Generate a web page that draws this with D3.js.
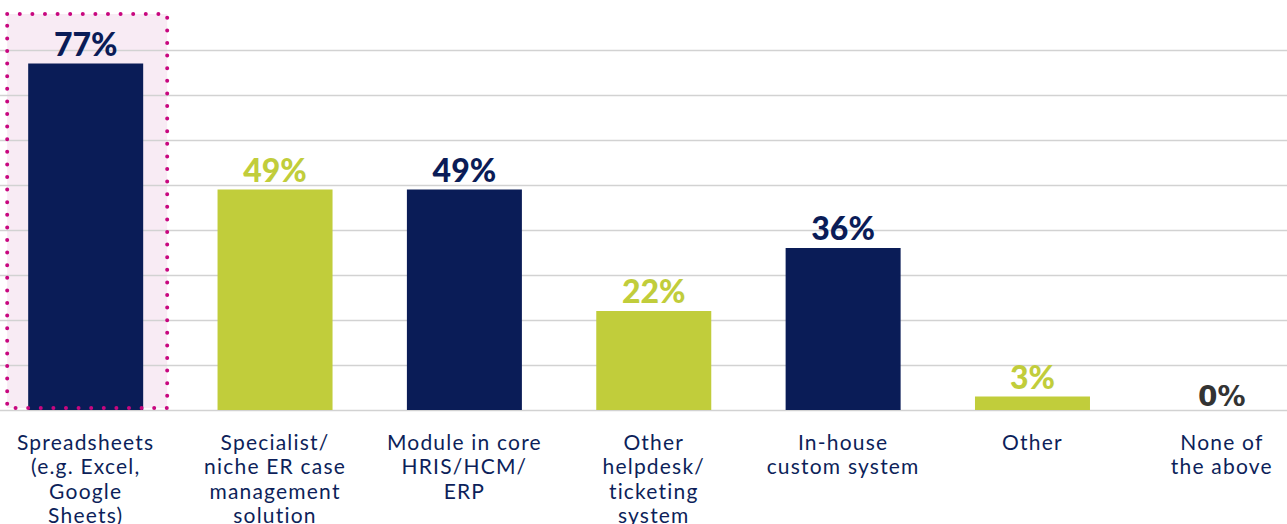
<!DOCTYPE html>
<html>
<head>
<meta charset="utf-8">
<script src="https://cdn.jsdelivr.net/npm/d3@7"></script>
<style>
  html, body { margin: 0; padding: 0; background: #ffffff; }
  svg { display: block; }
</style>
</head>
<body>
<svg id="chart" width="1287" height="524"></svg>
<script>
// Categories (each label split into its display lines)
const categories = [
  ["Spreadsheets", "(e.g. Excel,", "Google", "Sheets)"],
  ["Specialist/", "niche ER case", "management", "solution"],
  ["Module in core", "HRIS/HCM/", "ERP"],
  ["Other", "helpdesk/", "ticketing", "system"],
  ["In-house", "custom system"],
  ["Other"],
  ["None of", "the above"]
];
// Share of respondents (%)
const values = [77, 49, 49, 22, 36, 3, 0];
// Bar colour group per category
const groups = ["navy", "lime", "navy", "lime", "navy", "lime", "navy"];
// Gridline values (%)
const gridTicks = [0, 10, 20, 30, 40, 50, 60, 70, 80];
// Highlighted category index
const highlighted = [0];

const W = 1287, H = 524;
const colors = { navy: "#0a1c57", lime: "#c1cd3b" };
const textNavy = "#0d1f5a";

const svg = d3.select("#chart");
const ids = categories.map((c, i) => i);

const step = 189.36;
const x = d3.scaleBand()
  .domain(ids)
  .range([-9, -9 + step * ids.length])
  .paddingInner(1 - 115 / step)
  .paddingOuter((1 - 115 / step) / 2);

const y = d3.scaleLinear().domain([0, 80]).range([410, 50]);

// Highlight panel background
const hl = svg.append("g");
hl.selectAll("rect")
  .data(highlighted)
  .join("rect")
  .attr("x", d => x(d) - 21)
  .attr("y", 14)
  .attr("width", x.bandwidth() + 45)
  .attr("height", y(0) - 2 - 14)
  .attr("fill", "#f8ebf4");

// Gridlines
svg.append("g")
  .call(d3.axisLeft(y).tickValues(gridTicks).tickSize(-W).tickFormat(""))
  .call(g => g.select(".domain").remove())
  .call(g => g.selectAll(".tick line")
    .attr("x1", 0).attr("x2", W)
    .attr("stroke", "#d2d2d2").attr("stroke-width", 1.3));

// Bars
svg.append("g").selectAll("rect")
  .data(values)
  .join("rect")
  .attr("x", (d, i) => x(i))
  .attr("y", d => y(d))
  .attr("width", x.bandwidth())
  .attr("height", d => y(0) - y(d))
  .attr("fill", (d, i) => colors[groups[i]]);

// Dotted outline of the highlight panel (drawn above the bars)
svg.append("g").selectAll("rect")
  .data(highlighted)
  .join("rect")
  .attr("x", d => x(d) - 21)
  .attr("y", 14)
  .attr("width", x.bandwidth() + 45)
  .attr("height", y(0) - 2 - 14)
  .attr("fill", "none")
  .attr("stroke", "#c8077f")
  .attr("stroke-width", 4)
  .attr("stroke-linecap", "round")
  .attr("stroke-dasharray", "0 12.6");

// Value labels
svg.append("g").selectAll("text")
  .data(values)
  .join("text")
  .attr("x", (d, i) => x(i) + x.bandwidth() / 2)
  .attr("y", d => d === 0 ? y(d) - 4 : y(d) - 8)
  .attr("text-anchor", "middle")
  .attr("font-family", d => d === 0 ? "DejaVu Sans" : "Lato")
  .attr("font-weight", d => d === 0 ? "bold" : 900)
  .attr("font-size", d => d === 0 ? 28 : 32)
  .attr("fill", (d, i) => d === 0 ? "#333333" : colors[groups[i]])
  .text(d => d + "%");

// Category labels
const lab = svg.append("g").selectAll("text")
  .data(categories)
  .join("text")
  .attr("text-anchor", "middle")
  .attr("font-family", "Lato")
  .attr("font-size", 21)
  .attr("letter-spacing", 1.2)
  .attr("fill", textNavy);
lab.selectAll("tspan")
  .data((d, i) => d.map(line => ({ line, i })))
  .join("tspan")
  .attr("x", d => x(d.i) + x.bandwidth() / 2)
  .attr("y", (d, j) => 450 + j * 24.3)
  .text(d => d.line);
</script>
</body>
</html>
